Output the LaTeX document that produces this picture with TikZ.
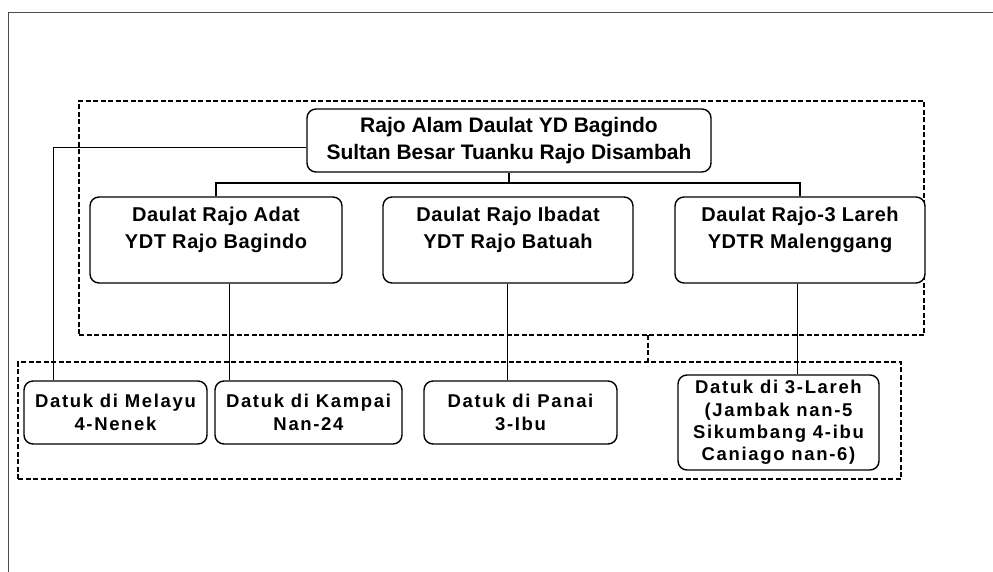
\documentclass[tikz,border=0pt]{standalone}
\usepackage{fontspec}
\setmainfont{Liberation Sans}
\newfontfamily\topfont{Liberation Sans}
\newfontfamily\midfont{Liberation Sans}[LetterSpace=3]
\newfontfamily\lowfont{Liberation Sans}[LetterSpace=9]
\begin{document}
\begin{tikzpicture}[x=1pt,y=-1pt,
  framel/.style={draw=black!70, line width=1.6pt},
  dbox/.style={draw, line width=2pt, dash pattern=on 5pt off 2.5pt, inner sep=0pt},
  dline/.style={line width=2pt, dash pattern=on 5pt off 2.5pt},
  rbox/.style={draw, line width=1.4pt, rounded corners=9pt, inner sep=0pt, fill=white},
  conn/.style={line width=1pt},
  busl/.style={line width=2.6pt},
  toptext/.style={font=\topfont\bfseries\fontsize{21}{27}\selectfont, align=center},
  midtext/.style={font=\midfont\bfseries\fontsize{20}{27}\selectfont, align=center},
  lowtext/.style={font=\lowfont\bfseries\fontsize{18.5}{22.3}\selectfont, align=center}
]
\useasboundingbox (0,0) rectangle (993,572);
% outer frame
\draw[framel] (8.5,572) -- (8.5,12.5) -- (993,12.5);

% dashed group boxes
\node[dbox, minimum width=845pt, minimum height=234pt] (g1) at (501.5,218) {};
\node[dbox, minimum width=883pt, minimum height=117pt] (g2) at (459.5,420.5) {};
\coordinate (stub) at (648,335);
\draw[dline] (stub) -- (stub |- g2.north);

% top node
\node[rbox, toptext, minimum width=404pt, minimum height=63pt] (top) at (509,140.5)
  {Rajo Alam Daulat YD Bagindo\\Sultan Besar Tuanku Rajo Disambah};

% middle nodes
\node[rbox, minimum width=252pt, minimum height=86pt,
  label={[midtext, anchor=north, yshift=-7pt]north:Daulat Rajo Adat\\YDT Rajo Bagindo}] (c1) at (216,240) {};
\node[rbox, minimum width=250pt, minimum height=86pt,
  label={[midtext, anchor=north, yshift=-7pt]north:Daulat Rajo Ibadat\\YDT Rajo Batuah}] (c2) at (508,240) {};
\node[rbox, minimum width=250pt, minimum height=86pt,
  label={[midtext, anchor=north, yshift=-7pt]north:Daulat Rajo-3 Lareh\\YDTR Malenggang}] (c3) at (800,240) {};

% lower nodes
\node[rbox, lowtext, minimum width=183pt, minimum height=63pt] (m1) at (115.5,412.5) {Datuk di Melayu\\4-Nenek};
\node[rbox, lowtext, minimum width=187pt, minimum height=63pt] (m2) at (308.5,412.5) {Datuk di Kampai\\Nan-24};
\node[rbox, lowtext, minimum width=193pt, minimum height=63pt] (m3) at (520.5,412.5) {Datuk di Panai\\3-Ibu};
\node[rbox, lowtext, minimum width=201pt, minimum height=95pt] (m4) at (778.5,422.5) {Datuk di 3-Lareh\\(Jambak nan-5\\Sikumbang 4-ibu\\Caniago nan-6)};

% bus from top node
\coordinate (bus) at (509,183);
\draw[busl] (top.south) -- (bus);
\draw[busl] (c1.north) |- (bus) -| (c3.north);

% left connector
\coordinate (lx) at (53,0);
\draw[conn] ([yshift=-7.5pt]top.west) -| (m1.north -| lx);

% vertical connectors
\coordinate (x1) at (229,0);
\coordinate (x2) at (507.5,0);
\coordinate (x3) at (797,0);
\draw[conn] (c1.south -| x1) -- (m2.north -| x1);
\draw[conn] (c2.south -| x2) -- (m3.north -| x2);
\draw[conn] (c3.south -| x3) -- (m4.north -| x3);
\end{tikzpicture}
\end{document}
